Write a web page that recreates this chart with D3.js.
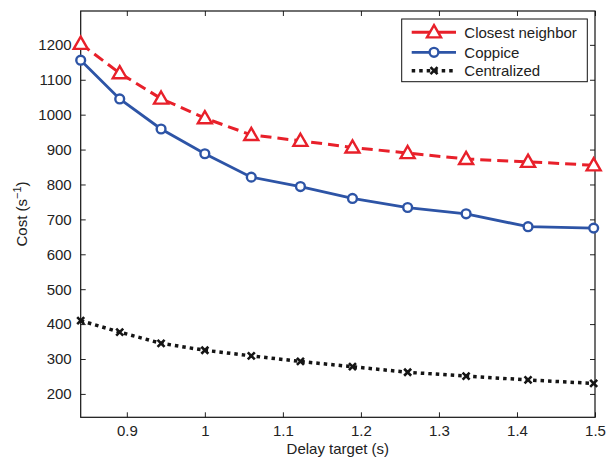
<!DOCTYPE html>
<html><head><meta charset="utf-8">
<script src="https://cdn.jsdelivr.net/npm/d3@7"></script>
<style>body{margin:0;background:#fff}svg{display:block}text{font-family:"Liberation Sans",Arial,sans-serif;fill:#222}</style>
</head><body>
<script>
const delayTargets = [0.8409,0.8909,0.9439,1.0,1.0595,1.1225,1.1892,1.2599,1.3348,1.4142,1.4983];
const closestNeighbor = [1203,1119,1046,990,942,925,906,890,873,865,855];
const coppice = [1156,1045,959,888,821,794,760,734,716,679,675];
const centralized = [410,377,345,325,309,293,278,262,251,240,230];
const xTicks = [0.9,1,1.1,1.2,1.3,1.4,1.5];
const yTicks = [200,300,400,500,600,700,800,900,1000,1100,1200];
const seriesNames = ["Closest neighbor","Coppice","Centralized"];

const W=607,H=457;
const L=80.7,R=595,T=11,B=417.3;
const svg=d3.select("body").append("svg").attr("width",W).attr("height",H);
const x=d3.scaleLinear().domain([0.8409,1.5]).range([L,R]);
const y=d3.scaleLinear().domain([133,1297]).range([B,T]);

const fmtX=d=>d===1?"1":d3.format(".1f")(d);
const gx=svg.append("g").attr("transform",`translate(0,${B})`)
  .call(d3.axisBottom(x).tickValues(xTicks).tickFormat(fmtX).tickSize(-5).tickPadding(8.5));
const gxt=svg.append("g").attr("transform",`translate(0,${T})`)
  .call(d3.axisTop(x).tickValues(xTicks).tickFormat("").tickSize(-5));
const gy=svg.append("g").attr("transform",`translate(${L},0)`)
  .call(d3.axisLeft(y).tickValues(yTicks).tickFormat(d3.format("d")).tickSize(-5).tickPadding(9));
const gyr=svg.append("g").attr("transform",`translate(${R},0)`)
  .call(d3.axisRight(y).tickValues(yTicks).tickFormat("").tickSize(-5));
[gx,gxt,gy,gyr].forEach(g=>{g.select(".domain").remove();g.selectAll("line").attr("stroke","#222");g.selectAll("text").style("font-size","15px").attr("fill","#222");});
svg.append("rect").attr("x",L).attr("y",T).attr("width",R-L).attr("height",B-T).attr("fill","none").attr("stroke","#111").attr("stroke-width",1.2);

svg.append("text").attr("x",(L+R)/2).attr("y",454).attr("text-anchor","middle").style("font-size","15px").text("Delay target (s)");
const yl=svg.append("text").attr("transform","translate(27,214) rotate(-90)").attr("text-anchor","middle").style("font-size","15px");
yl.append("tspan").text("Cost (s");
yl.append("tspan").attr("dy",-6).style("font-size","11px").text("\u22121");
yl.append("tspan").attr("dy",6).text(")");

const red="#e8202a",blue="#2d54a6",black="#151515";
const line=d3.line().x((d,i)=>x(delayTargets[i])).y(d=>y(d));
function drawSeries(vals,color,dash,width,marker){
  svg.append("path").datum(vals).attr("d",line).attr("fill","none").attr("stroke",color)
    .attr("stroke-width",width).attr("stroke-dasharray",dash);
  const g=svg.append("g");
  vals.forEach((v,i)=>marker(g,x(delayTargets[i]),y(v)));
}
const tri=(g,cx,cy)=>g.append("path").attr("d",d3.symbol().type(d3.symbolTriangle).size(85)()).attr("transform",`translate(${cx},${cy+1})`).attr("fill","#fff").attr("stroke",red).attr("stroke-width",2.4);
const circ=(g,cx,cy)=>g.append("circle").attr("cx",cx).attr("cy",cy).attr("r",4.4).attr("fill","#fff").attr("stroke",blue).attr("stroke-width",2.4);
const cross=(g,cx,cy)=>g.append("path").attr("d",`M${cx-3.5},${cy-3.5}L${cx+3.5},${cy+3.5}M${cx-3.5},${cy+3.5}L${cx+3.5},${cy-3.5}`).attr("stroke",black).attr("stroke-width",2.6);

drawSeries(centralized,black,"3.5,4",3.5,cross);
drawSeries(coppice,blue,null,2.8,circ);
drawSeries(closestNeighbor,red,"11,6",3,tri);

const lg=svg.append("g");
lg.append("rect").attr("x",401.7).attr("y",19).attr("width",185.6).attr("height",62.7).attr("fill","#fff").attr("stroke","#111").attr("stroke-width",1);
const rows=[
 {name:seriesNames[0],color:red,dash:null,w:3,m:tri,yy:32.3},
 {name:seriesNames[1],color:blue,dash:null,w:2.8,m:circ,yy:52.3},
 {name:seriesNames[2],color:black,dash:"3.5,4",w:3.5,m:cross,yy:70.7}];
rows.forEach(r=>{
  lg.append("line").attr("x1",411.7).attr("x2",456).attr("y1",r.yy).attr("y2",r.yy).attr("stroke",r.color).attr("stroke-width",r.w).attr("stroke-dasharray",r.dash);
  r.m(lg,434,r.yy);
  lg.append("text").attr("x",464.3).attr("y",r.yy+5.5).style("font-size","15px").text(r.name);
});
</script>
</body></html>
